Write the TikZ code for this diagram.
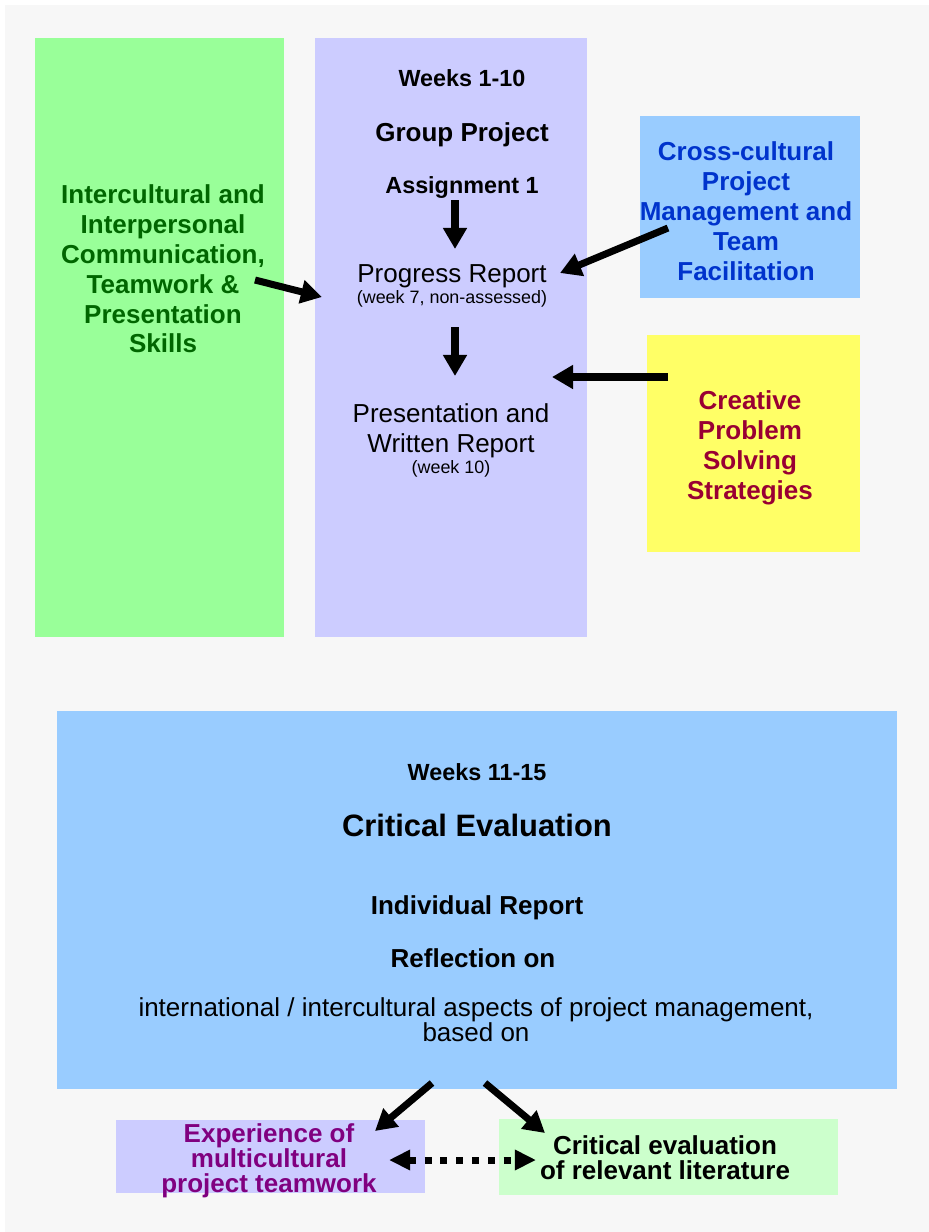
\documentclass[tikz,border=0pt]{standalone}
\usepackage{fontspec}
\setmainfont{Liberation Sans}
\usetikzlibrary{arrows.meta}

\definecolor{bggray}{HTML}{F7F7F7}
\definecolor{boxgreen}{HTML}{99FF99}
\definecolor{boxlilac}{HTML}{CCCCFF}
\definecolor{boxblue}{HTML}{99CCFF}
\definecolor{boxyellow}{HTML}{FFFF66}
\definecolor{boxmint}{HTML}{CCFFCC}
\definecolor{txtgreen}{HTML}{006600}
\definecolor{txtblue}{HTML}{0033CC}
\definecolor{txtred}{HTML}{990033}
\definecolor{txtpurple}{HTML}{800080}

\begin{document}
\begin{tikzpicture}[x=0.02cm, y=-0.02cm,
  box/.style={anchor=north west, inner sep=0pt, outer sep=0pt},
  txt/.style={align=center, inner sep=0pt, font=\fontsize{14.8}{17}\selectfont\bfseries},
  plain/.style={align=center, inner sep=0pt, font=\fontsize{14.8}{17}\selectfont},
  small/.style={inner sep=0pt, font=\fontsize{10.2}{12}\selectfont},
  weeks/.style={inner sep=0pt, font=\fontsize{13.3}{16}\selectfont\bfseries},
  bigarrow/.style={-{Triangle[length=12pt,width=13pt]}, line width=4pt},
  dotarrow/.style={{Triangle[length=12pt,width=11pt]}-{Triangle[length=12pt,width=11pt]}, line width=4pt, dash pattern=on 4pt off 5pt}]

\useasboundingbox (0,0) rectangle (929,1232);
\fill [bggray] (5,5) rectangle (929,1232);

% weeks 1-10
\node [box, fill=boxgreen, minimum width=4.98cm, minimum height=11.98cm] (skills) at (35,38) {};
\node [box, fill=boxlilac, minimum width=5.44cm, minimum height=11.98cm] (group) at (315,38) {};
\node [box, fill=boxblue, minimum width=4.4cm, minimum height=3.64cm] (mgmt) at (640,116) {};
\node [box, fill=boxyellow, minimum width=4.26cm, minimum height=4.34cm] (creative) at (647,335) {};

\node [txt, text=txtgreen] (skillstxt) at (163,269) {Intercultural and\\Interpersonal\\Communication,\\Teamwork \&\\Presentation\\Skills};
\node [txt, text=txtblue] (mgmttxt) at (746,211) {Cross-cultural\\Project\\Management and\\Team\\Facilitation};
\node [txt, text=txtred] (creativetxt) at (750,448) {Creative\\Problem\\Solving\\Strategies};

\node [weeks] (weeksA) at (462,78) {Weeks 1-10};
\node [txt] (project) at (462,135) {Group Project};
\node [weeks] (assign) at (462,187) {Assignment 1};
\node [plain] (progress) at (452,276) {Progress Report};
\node [small] (progressnote) at (452,299) {(week 7, non-assessed)};
\node [plain] (present) at (451,431) {Presentation and\\Written Report};
\node [small] (presentnote) at (451,469) {(week 10)};

\coordinate (a1) at (455,200);
\coordinate (a2) at (455,249);
\coordinate (b1) at (455,327);
\coordinate (b2) at (455,376);
\coordinate (c1) at (255,280);
\coordinate (c2) at (322,297);
\coordinate (d1) at (668,228);
\coordinate (d2) at (560,273);
\coordinate (e1) at (668,377);
\coordinate (e2) at (552,377);

\draw [bigarrow] (a1) -- (a2);
\draw [bigarrow] (b1) -- (b2);
\draw [bigarrow] (c1) -- (c2);
\draw [bigarrow] (d1) -- (d2);
\draw [bigarrow] (e1) -- (e2);

% weeks 11-15
\node [box, fill=boxblue, minimum width=16.8cm, minimum height=7.56cm] (evaluation) at (57,711) {};
\node [weeks] (weeksB) at (477,772) {Weeks 11-15};
\node [inner sep=0pt, font=\fontsize{17.6}{21}\selectfont\bfseries] (evaltitle) at (477,825) {Critical Evaluation};
\node [txt] (indiv) at (477,908) {Individual Report};
\node [txt] (reflect) at (473,958) {Reflection on};
\node [plain, font=\fontsize{14.8}{14.2}\selectfont] (aspects) at (476,1020) {international / intercultural aspects of project management,\\based on};

\node [box, fill=boxlilac, minimum width=6.18cm, minimum height=1.46cm] (teamwork) at (116,1120) {};
\node [box, fill=boxmint, minimum width=6.78cm, minimum height=1.52cm] (literature) at (499,1119) {};
\node [txt, text=txtpurple, font=\fontsize{14.8}{14.2}\selectfont\bfseries] (teamworktxt) at (269,1161) {Experience of\\multicultural\\project teamwork};
\node [txt, font=\fontsize{14.8}{14.2}\selectfont\bfseries] (literaturetxt) at (665,1158) {Critical evaluation\\of relevant literature};

\coordinate (f1) at (432,1083);
\coordinate (f2) at (375,1131);
\coordinate (g1) at (485,1083);
\coordinate (g2) at (545,1133);
\coordinate (h1) at (389,1160);
\coordinate (h2) at (536,1160);

\draw [bigarrow] (f1) -- (f2);
\draw [bigarrow] (g1) -- (g2);
\draw [dotarrow] (h1) -- (h2);
\end{tikzpicture}
\end{document}
